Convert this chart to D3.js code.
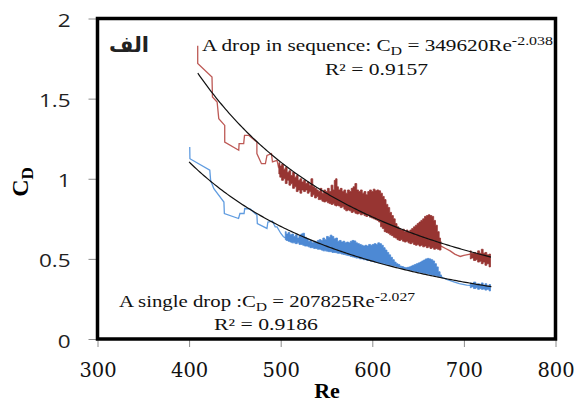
<!DOCTYPE html>
<html>
<head>
<meta charset="utf-8">
<script src="https://cdn.jsdelivr.net/npm/d3@7"></script>
<style>
  body { margin: 0; background: #fff; }
  svg { display: block; }
</style>
</head>
<body>
<svg id="chart" width="574" height="403"></svg>
<script>
// axis ticks
const xTicks = [300, 400, 500, 600, 700, 800];
const yTicks = [0, 0.5, 1, 1.5, 2];

// "A drop in sequence" (red): sparse step parts [Re, CD], dense parts [Re, low, high]
const seqLine1 = [
  [409.4, 1.83], [409.4, 1.72], [425, 1.634], [425.5, 1.51], [430.6, 1.479], [432.4, 1.375],
  [438.9, 1.333], [438.9, 1.229], [454.2, 1.178], [454.6, 1.219], [459.6, 1.219], [460.5, 1.271],
  [465, 1.271], [474, 1.229], [474, 1.157], [479, 1.094], [483.3, 1.094], [485, 1.146],
  [489.9, 1.157], [491, 1.105], [496, 1.115], [497.5, 1.074], [499, 1.09]
];
const seqBand1 = [
  [498, 1.03, 1.10], [500, 1.01, 1.08], [502, 0.99, 1.09], [504, 1.00, 1.06], [506, 0.97, 1.07],
  [508, 0.99, 1.04], [510, 0.96, 1.05], [512, 0.97, 1.02], [514, 0.94, 1.04], [516, 0.95, 1.01],
  [518, 0.92, 1.02], [520, 0.93, 0.99], [522, 0.91, 1.00], [524, 0.93, 0.98], [526, 0.92, 0.99],
  [528, 0.93, 0.97], [530, 0.91, 0.98], [532, 0.92, 0.96], [534, 0.89, 1.00], [536, 0.90, 0.95],
  [538, 0.88, 0.94], [540, 0.89, 0.93], [542, 0.87, 0.92], [544, 0.87, 0.94], [546, 0.86, 0.91],
  [548, 0.855, 0.93], [550, 0.86, 0.92], [552, 0.85, 0.94], [554, 0.845, 0.92], [556, 0.84, 0.96],
  [558, 0.845, 0.93], [559, 0.835, 0.99], [561, 0.83, 1.00], [562, 0.835, 0.95], [564, 0.83, 0.93],
  [566, 0.82, 0.94], [568, 0.825, 0.92], [570, 0.81, 0.93], [572, 0.80, 0.91], [574, 0.805, 0.93],
  [576, 0.80, 0.92], [578, 0.79, 0.94], [580, 0.795, 0.95], [582, 0.785, 0.97], [584, 0.78, 0.93],
  [586, 0.785, 0.92], [588, 0.775, 0.93], [590, 0.78, 0.91], [592, 0.77, 0.92], [594, 0.765, 0.90],
  [596, 0.77, 0.92], [598, 0.76, 0.93], [600, 0.755, 0.92], [602, 0.75, 0.935], [604, 0.745, 0.925],
  [606, 0.74, 0.93], [608, 0.73, 0.925], [610, 0.70, 0.91], [612, 0.69, 0.89], [614, 0.67, 0.87],
  [616, 0.665, 0.84], [618, 0.66, 0.82], [620, 0.65, 0.79], [622, 0.645, 0.77], [624, 0.635, 0.75],
  [626, 0.63, 0.72], [628, 0.62, 0.70], [630, 0.615, 0.69], [632, 0.62, 0.68], [634, 0.61, 0.685],
  [636, 0.605, 0.67], [638, 0.61, 0.68], [640, 0.60, 0.67], [642, 0.595, 0.68], [644, 0.60, 0.69],
  [646, 0.59, 0.70], [648, 0.585, 0.71], [650, 0.59, 0.72], [652, 0.58, 0.73], [654, 0.585, 0.74],
  [656, 0.575, 0.75], [658, 0.58, 0.765], [660, 0.57, 0.77], [662, 0.575, 0.775], [664, 0.565, 0.77],
  [666, 0.57, 0.765], [668, 0.56, 0.74], [670, 0.565, 0.71], [672, 0.56, 0.67], [674, 0.555, 0.63],
  [675, 0.555, 0.61]
];
const seqLine2 = [
  [675, 0.58], [680, 0.565], [685, 0.55], [690, 0.53], [692.5, 0.523], [696, 0.515],
  [700, 0.522], [707, 0.53]
];
const seqBand2 = [
  [707, 0.50, 0.55], [709, 0.505, 0.535], [712, 0.49, 0.54], [714, 0.495, 0.53], [716, 0.48, 0.55],
  [718, 0.485, 0.535], [720, 0.47, 0.56], [722, 0.48, 0.535], [724, 0.46, 0.54], [726, 0.47, 0.525],
  [729, 0.45, 0.53]
];

// "A single drop" (blue)
const singleLine1 = [
  [400.7, 1.198], [400.9, 1.125], [422.6, 1.053], [423.5, 0.99], [427, 0.938], [438, 0.855],
  [438.5, 0.783], [454, 0.752], [455.5, 0.783], [460, 0.783], [460.7, 0.814], [467, 0.81],
  [474, 0.773], [474.5, 0.72], [485, 0.69], [486, 0.73], [491, 0.735], [494, 0.70],
  [496, 0.70], [500, 0.66], [503, 0.638], [506, 0.63]
];
const singleBand1 = [
  [505, 0.62, 0.67], [507, 0.615, 0.655], [509, 0.61, 0.665], [511, 0.605, 0.65], [513, 0.60, 0.655],
  [515, 0.60, 0.64], [517, 0.595, 0.65], [519, 0.60, 0.63], [521, 0.59, 0.645], [523, 0.59, 0.655],
  [525, 0.585, 0.66], [527, 0.58, 0.635], [529, 0.58, 0.625], [531, 0.575, 0.61], [533, 0.57, 0.615],
  [535, 0.57, 0.60], [537, 0.565, 0.61], [539, 0.565, 0.605], [541, 0.56, 0.615], [543, 0.56, 0.62],
  [545, 0.555, 0.615], [547, 0.55, 0.63], [549, 0.55, 0.62], [551, 0.548, 0.64], [553, 0.545, 0.635],
  [555, 0.545, 0.648], [557, 0.54, 0.64], [559, 0.54, 0.625], [561, 0.538, 0.63], [563, 0.535, 0.61],
  [565, 0.535, 0.615], [567, 0.53, 0.605], [569, 0.528, 0.61], [571, 0.525, 0.60], [573, 0.522, 0.605],
  [575, 0.52, 0.60], [577, 0.515, 0.61], [579, 0.512, 0.615], [581, 0.51, 0.612], [583, 0.505, 0.60],
  [585, 0.505, 0.595], [587, 0.50, 0.59], [589, 0.50, 0.585], [591, 0.495, 0.58], [593, 0.495, 0.585],
  [595, 0.49, 0.58], [597, 0.49, 0.59], [599, 0.485, 0.585], [601, 0.485, 0.59], [603, 0.48, 0.595],
  [605, 0.48, 0.59], [607, 0.475, 0.60], [609, 0.475, 0.595], [611, 0.47, 0.585], [613, 0.47, 0.57],
  [615, 0.465, 0.555], [617, 0.465, 0.54], [619, 0.46, 0.525], [621, 0.46, 0.51], [623, 0.455, 0.495],
  [625, 0.455, 0.48], [627, 0.45, 0.47], [629, 0.448, 0.465], [631, 0.445, 0.455], [633, 0.44, 0.452],
  [635, 0.437, 0.447], [637, 0.435, 0.445], [639, 0.432, 0.447], [641, 0.43, 0.45], [643, 0.427, 0.455],
  [645, 0.425, 0.46], [647, 0.422, 0.465], [649, 0.42, 0.47], [651, 0.417, 0.475], [653, 0.415, 0.48],
  [655, 0.412, 0.487], [657, 0.41, 0.493], [659, 0.407, 0.50], [661, 0.405, 0.503], [663, 0.402, 0.50],
  [665, 0.40, 0.495], [667, 0.397, 0.487], [669, 0.395, 0.47], [671, 0.392, 0.45], [673, 0.39, 0.42],
  [675, 0.387, 0.40], [676, 0.385, 0.39]
];
const singleLine2 = [
  [676, 0.385], [682, 0.37], [689, 0.357], [695, 0.345], [703, 0.336], [707, 0.335]
];
const singleBand2 = [
  [707, 0.32, 0.35], [709, 0.325, 0.34], [712, 0.315, 0.355], [714, 0.32, 0.34], [716, 0.31, 0.345],
  [718, 0.315, 0.335], [720, 0.31, 0.35], [722, 0.312, 0.335], [724, 0.305, 0.345], [726, 0.31, 0.33],
  [729, 0.30, 0.34]
];

// power-law trendlines CD = a * Re^b  [a, b, Re from, Re to]
const seqFit = [349620, -2.038, 409.5, 730];
const singleFit = [207825, -2.027, 400, 730];

const svg = d3.select("#chart");

const x = d3.scaleLinear().domain([300, 800]).range([97.5, 555.5]);
const y = d3.scaleLinear().domain([0, 2]).range([339, 18.5]);

const line = d3.line().x(d => x(d[0])).y(d => y(d[1]));
// dense parts drawn as stepped band so the spikes stay vertical
const area = d3.area().curve(d3.curveStep).x(d => x(d[0])).y0(d => y(d[1])).y1(d => y(d[2]));

// axes (ticks only, frame drawn separately)
const yAxis = svg.append("g")
    .attr("transform", `translate(${x(300)},0)`)
    .call(d3.axisLeft(y).tickValues(yTicks).tickSize(9).tickFormat(d3.format("")));
yAxis.select(".domain").remove();
yAxis.selectAll("line").attr("stroke", "#8c8c8c");
yAxis.selectAll("text")
    .attr("x", -21.5)
    .attr("dy", "0.45em")
    .attr("transform", "scale(1.25,1)")
    .attr("font-family", "'Open Sans', sans-serif")
    .attr("font-size", 18)
    .attr("fill", "#222");

const xAxis = svg.append("g")
    .attr("transform", `translate(0,${y(0)})`)
    .call(d3.axisBottom(x).tickValues(xTicks).tickSize(8));
xAxis.select(".domain").remove();
xAxis.selectAll("line").attr("stroke", "#8c8c8c");
xAxis.selectAll("text")
    .attr("y", 0)
    .attr("dy", 38)
    .attr("font-family", "'DejaVu Serif', serif")
    .attr("font-size", 19.5)
    .attr("fill", "#111");

// data
const drawSeries = (lines, bands, strokeColor, fillColor) => {
  const g = svg.append("g");
  lines.forEach(pts => {
    g.append("path")
      .datum(pts)
      .attr("d", line)
      .attr("fill", "none")
      .attr("stroke", strokeColor)
      .attr("stroke-width", 1.3);
  });
  bands.forEach(pts => {
    g.append("path")
      .datum(pts)
      .attr("d", area)
      .attr("fill", fillColor)
      .attr("stroke", fillColor)
      .attr("stroke-width", 0.8);
  });
};

drawSeries([singleLine1, singleLine2], [singleBand1, singleBand2], "#609ce0", "#4d89d4");
drawSeries([seqLine1, seqLine2], [seqBand1, seqBand2], "#bd5955", "#973532");

const drawFit = ([a, b, from, to]) => {
  const pts = d3.range(from, to + 0.01, 2).map(re => [re, a * Math.pow(re, b)]);
  svg.append("path")
    .datum(pts)
    .attr("d", line)
    .attr("fill", "none")
    .attr("stroke", "#111")
    .attr("stroke-width", 1.2);
};
drawFit(seqFit);
drawFit(singleFit);

// frame
svg.append("rect")
    .attr("x", x(300))
    .attr("y", y(2))
    .attr("width", x(800) - x(300))
    .attr("height", y(0) - y(2))
    .attr("fill", "none")
    .attr("stroke", "#000")
    .attr("stroke-width", 3.5);

// equations
const addEquation = (px, py, parts, width) => {
  const t = svg.append("text")
    .attr("x", px)
    .attr("y", py)
    .attr("font-family", "'Liberation Serif', serif")
    .attr("font-size", 16)
    .attr("fill", "#111");
  let shift = 0;
  parts.forEach(([s, kind]) => {
    const target = kind === "sub" ? 4 : kind === "sup" ? -6 : 0;
    t.append("tspan")
      .attr("dy", target - shift)
      .attr("font-size", kind ? 12 : 16)
      .text(s);
    shift = target;
  });
  if (width) t.attr("textLength", width).attr("lengthAdjust", "spacingAndGlyphs");
};

addEquation(202, 51, [["A drop in sequence: C"], ["D", "sub"], [" = 349620Re"], ["-2.038", "sup"]], 351);
addEquation(325, 75, [["R² = 0.9157"]], 103);
addEquation(119, 307, [["A single drop :C"], ["D", "sub"], [" = 207825Re"], ["-2.027", "sup"]], 296);
addEquation(214, 330, [["R² = 0.9186"]], 104);

// panel label
svg.append("text")
    .attr("x", 129)
    .attr("y", 52)
    .attr("text-anchor", "middle")
    .attr("font-family", "'DejaVu Sans', sans-serif")
    .attr("font-weight", "bold")
    .attr("font-size", 21)
    .attr("fill", "#222")
    .text("الف");

// axis titles
svg.append("text")
    .attr("x", 327)
    .attr("y", 398)
    .attr("text-anchor", "middle")
    .attr("font-family", "'Liberation Serif', serif")
    .attr("font-weight", "bold")
    .attr("font-size", 22)
    .text("Re");

const yTitle = svg.append("text")
    .attr("transform", "translate(28,182) rotate(-90)")
    .attr("text-anchor", "middle")
    .attr("font-family", "'Liberation Serif', serif")
    .attr("font-weight", "bold")
    .attr("font-size", 24);
yTitle.append("tspan").text("C");
yTitle.append("tspan").attr("dy", 5).attr("font-size", 17).text("D");
</script>
</body>
</html>
